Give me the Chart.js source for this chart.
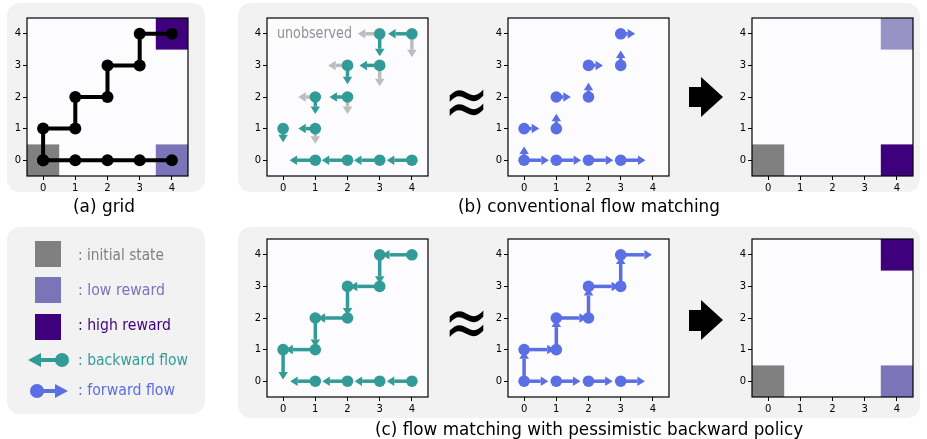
<!DOCTYPE html>
<html>
<head>
<meta charset="utf-8">
<title>Flow matching on a grid</title>
<script src="https://cdn.jsdelivr.net/npm/chart.js@4.4.0/dist/chart.umd.min.js"></script>
<style>
body{margin:0;background:#fff;width:927px;height:439px;position:relative;overflow:hidden;font-family:'DejaVu Sans',sans-serif}
.panel{position:absolute;background:#f2f2f2;border-radius:13px}
canvas{position:absolute}
.txt{position:absolute;white-space:nowrap;line-height:1;transform-origin:0 50%}
.sq{position:absolute;width:26px;height:26px}
svg{position:absolute;overflow:visible}
</style>
</head>
<body>
<div class="panel" style="left:7px;top:3px;width:198px;height:189px"></div>
<div class="panel" style="left:238px;top:3px;width:682px;height:189px"></div>
<div class="panel" style="left:7px;top:227px;width:198px;height:187px"></div>
<div class="panel" style="left:238px;top:227px;width:682px;height:191px"></div>

<canvas id="gridChart"></canvas>
<canvas id="convBackChart"></canvas>
<canvas id="convFwdChart"></canvas>
<canvas id="convResChart"></canvas>
<canvas id="pessBackChart"></canvas>
<canvas id="pessFwdChart"></canvas>
<canvas id="pessResChart"></canvas>

<div class="txt" data-w="62" style="left:73px;top:206px;font-size:18px;color:#000">(a) grid</div>
<div class="txt" data-w="262" style="left:458px;top:206px;font-size:18px;color:#000">(b) conventional flow matching</div>
<div class="txt" data-w="428" style="left:375px;top:429px;font-size:18px;color:#000">(c) flow matching with pessimistic backward policy</div>
<div class="txt" data-w="75" style="left:277px;top:33px;font-size:15px;color:#909090">unobserved</div>

<div class="txt" data-w="45" data-sy="1.6" style="left:444px;top:100px;font-size:46px;color:#000">&#8776;</div>
<div class="txt" data-w="45" data-sy="1.6" style="left:444px;top:321px;font-size:46px;color:#000">&#8776;</div>

<svg style="left:0;top:0" width="927" height="439">
  <polygon points="689,87 701,87 701,77 723,97 701,117 701,107 689,107" fill="#000"/>
  <polygon points="689,310 701,310 701,300 723,320 701,340 701,331 689,331" fill="#000"/>
  <line x1="38" y1="360" x2="62" y2="360" stroke="#339b97" stroke-width="4"/>
  <polygon points="28,360 41,353 41,367" fill="#339b97"/>
  <circle cx="62" cy="360" r="7" fill="#339b97"/>
  <line x1="37" y1="391" x2="58" y2="391" stroke="#5a6fe3" stroke-width="4"/>
  <polygon points="68,391 55,384 55,398" fill="#5a6fe3"/>
  <circle cx="37" cy="391" r="7" fill="#5a6fe3"/>
</svg>

<div class="sq" style="left:35px;top:241px;background:#808080"></div>
<div class="sq" style="left:35px;top:277px;background:#7b74b8"></div>
<div class="sq" style="left:35px;top:314px;background:#3f007d"></div>
<div class="txt" data-w="86" style="left:78px;top:255px;font-size:15px;color:#808080">: initial state</div>
<div class="txt" data-w="87" style="left:78px;top:290px;font-size:15px;color:#7b74b8">: low reward</div>
<div class="txt" data-w="93" style="left:78px;top:325px;font-size:15px;color:#3f007d">: high reward</div>
<div class="txt" data-w="110" style="left:78px;top:360px;font-size:15px;color:#339b97">: backward flow</div>
<div class="txt" data-w="97" style="left:78px;top:390px;font-size:15px;color:#5a6fe3">: forward flow</div>

<script>
var tickValues = [0, 1, 2, 3, 4];

// (a) the two trajectories of the grid
var pathBottomX = [0, 1, 2, 3, 4];
var pathBottomY = [0, 0, 0, 0, 0];
var pathStairX = [0, 0, 1, 1, 2, 2, 3, 3, 4];
var pathStairY = [0, 1, 1, 2, 2, 3, 3, 4, 4];

// coloured cells [x, y, kind]
var cellsGrid = [[0, 0, 'init'], [4, 0, 'low'], [4, 4, 'high']];
var cellsConv = [[0, 0, 'init'], [4, 4, 'lowLight'], [4, 0, 'high']];
var cellsPess = [[0, 0, 'init'], [4, 0, 'low'], [4, 4, 'high']];

// flow arrows [x, y, dx, dy, length]
var convBackObserved = [[1,0,-1,0,0.8],[2,0,-1,0,0.8],[3,0,-1,0,0.8],[4,0,-1,0,0.78],
  [0,1,0,-1,0.43],[1,1,-1,0,0.53],[1,2,0,-1,0.54],[2,2,-1,0,0.56],
  [2,3,0,-1,0.6],[3,3,-1,0,0.63],[3,4,0,-1,0.71],[4,4,-1,0,0.74]];
var convBackUnobserved = [[1,1,0,-1,0.48],[1,2,-1,0,0.53],[2,2,0,-1,0.54],[2,3,-1,0,0.6],
  [3,3,0,-1,0.66],[3,4,-1,0,0.68],[4,4,0,-1,0.74]];
var convForward = [[0,0,1,0,0.77],[1,0,1,0,0.77],[2,0,1,0,0.77],[3,0,1,0,0.77],
  [0,0,0,1,0.43],[0,1,1,0,0.47],[1,1,0,1,0.47],[1,2,1,0,0.45],
  [2,2,0,1,0.45],[2,3,1,0,0.45],[3,3,0,1,0.47],[3,4,1,0,0.45]];
var pessBackward = [[1,0,-1,0,0.78],[2,0,-1,0,0.78],[3,0,-1,0,0.78],[4,0,-1,0,0.78],
  [4,4,-1,0,0.93],[3,4,0,-1,0.92],[3,3,-1,0,0.93],[2,3,0,-1,0.92],
  [2,2,-1,0,0.93],[1,2,0,-1,0.92],[1,1,-1,0,0.93],[0,1,0,-1,0.95]];
var pessForward = [[0,0,1,0,0.75],[1,0,1,0,0.75],[2,0,1,0,0.75],[3,0,1,0,0.75],
  [0,0,0,1,0.95],[0,1,1,0,0.95],[1,1,0,1,0.95],[1,2,1,0,0.95],
  [2,2,0,1,0.95],[2,3,1,0,0.95],[3,3,0,1,0.95],[3,4,1,0,0.97]];

var TEAL = '#339b97', BLUE = '#5a6fe3', GREY_ARROW = '#bdbdbd';
var cellColors = {init: '#808080', low: '#7b74b8', lowLight: '#9793c5', high: '#3f007d'};

function toPoints(xs, ys) {
  return xs.map(function (x, i) { return {x: x, y: ys[i]}; });
}
function origins(list) {
  var seen = {}, out = [];
  list.forEach(function (a) {
    var k = a[0] + ',' + a[1];
    if (!seen[k]) { seen[k] = 1; out.push({x: a[0], y: a[1]}); }
  });
  return out;
}

function drawArrow(ctx, x0, y0, x1, y1, color) {
  var dx = x1 - x0, dy = y1 - y0, len = Math.hypot(dx, dy);
  var ux = dx / len, uy = dy / len, headL = 7.5, headW = 9.5;
  var bx = x1 - ux * headL, by = y1 - uy * headL;
  ctx.strokeStyle = color; ctx.lineWidth = 3.5; ctx.lineCap = 'butt';
  ctx.beginPath(); ctx.moveTo(x0, y0); ctx.lineTo(bx, by); ctx.stroke();
  ctx.fillStyle = color;
  ctx.beginPath();
  ctx.moveTo(x1, y1);
  ctx.lineTo(bx - uy * headW / 2, by + ux * headW / 2);
  ctx.lineTo(bx + uy * headW / 2, by - ux * headW / 2);
  ctx.closePath(); ctx.fill();
}

var gridDecor = {
  id: 'gridDecor',
  beforeDraw: function (chart) {
    var a = chart.chartArea, ctx = chart.ctx;
    ctx.save(); ctx.fillStyle = '#fcfbfd';
    ctx.fillRect(a.left, a.top, a.right - a.left, a.bottom - a.top);
    ctx.restore();
  },
  beforeDatasetsDraw: function (chart, args, opts) {
    var ctx = chart.ctx, sx = chart.scales.x, sy = chart.scales.y;
    ctx.save();
    (opts.cells || []).forEach(function (c) {
      var l = sx.getPixelForValue(c[0] - 0.5), r = sx.getPixelForValue(c[0] + 0.5);
      var t = sy.getPixelForValue(c[1] + 0.5), b = sy.getPixelForValue(c[1] - 0.5);
      ctx.fillStyle = cellColors[c[2]];
      ctx.fillRect(l, t, r - l, b - t);
    });
    (opts.arrows || []).forEach(function (group) {
      group.list.forEach(function (a) {
        drawArrow(ctx,
          sx.getPixelForValue(a[0]), sy.getPixelForValue(a[1]),
          sx.getPixelForValue(a[0] + a[2] * a[4]), sy.getPixelForValue(a[1] + a[3] * a[4]),
          group.color);
      });
    });
    ctx.restore();
  },
  afterDraw: function (chart) {
    var a = chart.chartArea, ctx = chart.ctx;
    ctx.save(); ctx.strokeStyle = '#000'; ctx.lineWidth = 1.2;
    ctx.strokeRect(a.left, a.top, a.right - a.left, a.bottom - a.top);
    ctx.restore();
  }
};

function axis(fitY) {
  return {
    type: 'linear', min: -0.5, max: 4.5,
    afterBuildTicks: function (s) { s.ticks = tickValues.map(function (v) { return {value: v}; }); },
    afterFit: function (s) { if (fitY) s.width = 30; else s.height = 22; },
    grid: {display: true, drawOnChartArea: false, drawTicks: true, tickLength: 4, color: '#000', lineWidth: 1},
    border: {display: false},
    ticks: {color: '#000', padding: 2, font: {family: 'DejaVu Sans', size: 10}, maxRotation: 0}
  };
}

function makeChart(id, left, top, datasets, decor) {
  var cv = document.getElementById(id);
  var w = 161, h = 160;
  cv.width = w + 36; cv.height = h + 28;
  cv.style.left = (left - 30) + 'px';
  cv.style.top = (top - 6) + 'px';
  return new Chart(cv, {
    type: 'scatter',
    data: {datasets: datasets},
    options: {
      responsive: false, animation: false, devicePixelRatio: 1,
      layout: {padding: {left: 0, right: 6, top: 6, bottom: 0}, autoPadding: false},
      plugins: {legend: {display: false}, tooltip: {enabled: false}, gridDecor: decor},
      scales: {x: axis(false), y: axis(true)}
    },
    plugins: [gridDecor]
  });
}

function dots(points, color) {
  return {data: points, showLine: false, pointRadius: 5.8, pointBackgroundColor: color,
    pointBorderWidth: 0, pointHoverRadius: 5.8};
}
function path(xs, ys) {
  return {data: toPoints(xs, ys), showLine: true, borderColor: '#000', borderWidth: 4,
    pointRadius: 6, pointBackgroundColor: '#000', pointBorderWidth: 0, tension: 0};
}

makeChart('gridChart', 27, 16,
  [path(pathBottomX, pathBottomY), path(pathStairX, pathStairY)],
  {cells: cellsGrid});
makeChart('convBackChart', 267, 16, [dots(origins(convBackObserved), TEAL)],
  {arrows: [{list: convBackUnobserved, color: GREY_ARROW}, {list: convBackObserved, color: TEAL}]});
makeChart('convFwdChart', 508, 16, [dots(origins(convForward), BLUE)],
  {arrows: [{list: convForward, color: BLUE}]});
makeChart('convResChart', 752, 16, [], {cells: cellsConv});
makeChart('pessBackChart', 267, 237, [dots(origins(pessBackward), TEAL)],
  {arrows: [{list: pessBackward, color: TEAL}]});
makeChart('pessFwdChart', 508, 237, [dots(origins(pessForward), BLUE)],
  {arrows: [{list: pessForward, color: BLUE}]});
makeChart('pessResChart', 752, 237, [], {cells: cellsPess});

// squeeze the wide DejaVu text to the widths of the original labels
document.querySelectorAll('.txt').forEach(function (el) {
  var target = parseFloat(el.getAttribute('data-w'));
  var sy = parseFloat(el.getAttribute('data-sy') || '1');
  var actual = el.getBoundingClientRect().width;
  el.style.transform = 'translateY(-50%) scale(' + (target / actual).toFixed(3) + ',' + sy + ')';
});
</script>
</body>
</html>
